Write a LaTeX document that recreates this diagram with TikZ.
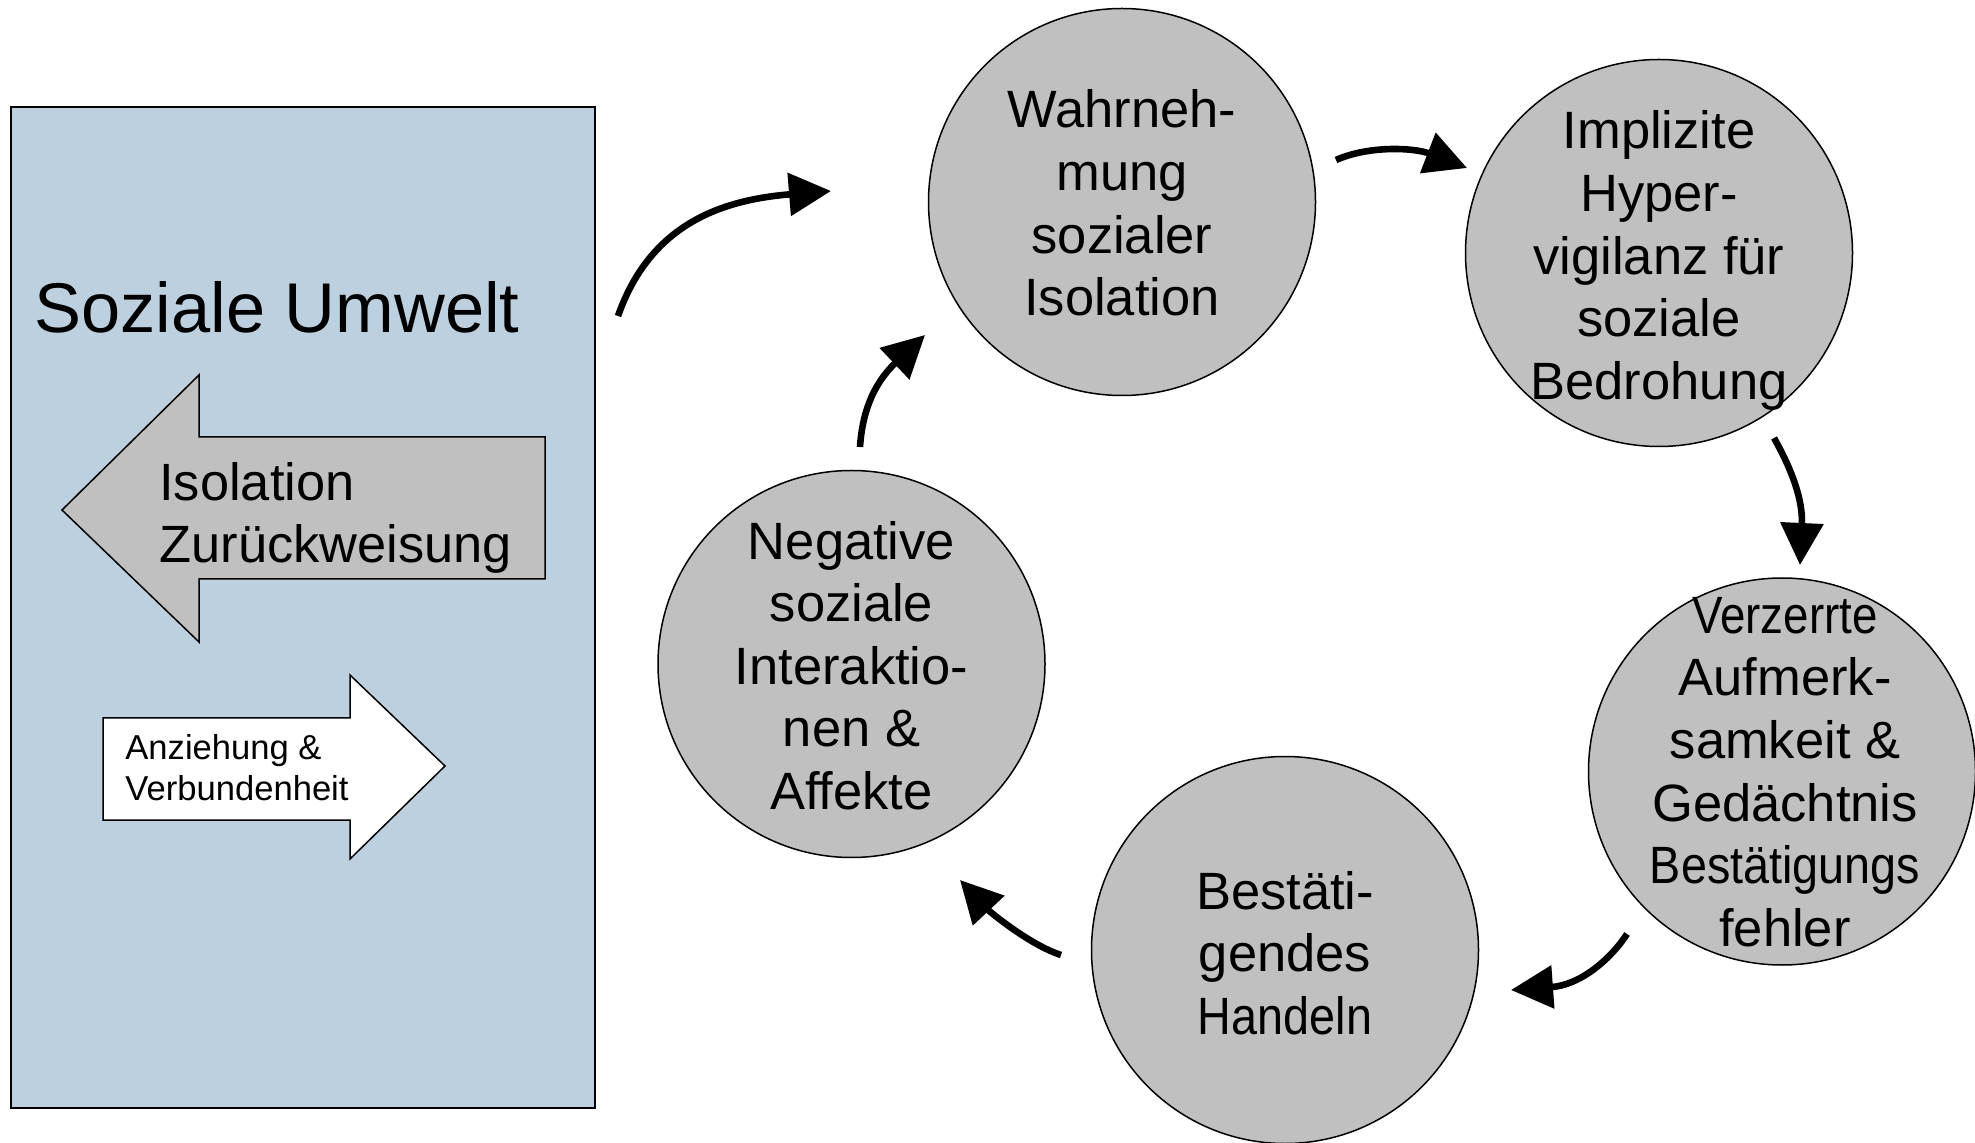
\documentclass[tikz,border=0pt]{standalone}
\usepackage{fontspec}
\setmainfont{Liberation Sans}
\usetikzlibrary{arrows.meta}
\definecolor{envblue}{RGB}{189,208,223}
\definecolor{bubblegray}{RGB}{192,192,192}
\begin{document}
\begin{tikzpicture}[x=0.5pt,y=-0.5pt,
  bubble/.style={circle, draw=black, line width=0.75pt, fill=bubblegray, minimum size=193.5pt, inner sep=0pt},
  bubbletext/.style={align=center, inner sep=0pt, font=\fontsize{26.25}{31.3}\selectfont},
  conn/.style={line width=3.3pt, line cap=butt, -{Triangle[length=21pt,width=21pt]}},
  outline/.style={draw=black, line width=0.75pt, line join=miter}]
\useasboundingbox (0,0) rectangle (1975,1143);
\fill[white] (0,0) rectangle (1975,1143);

% Social environment box
\node[draw=black, line width=0.75pt, fill=envblue, minimum width=292pt, minimum height=500.5pt, inner sep=0pt] (env) at (303,607.5) {};
\node[anchor=base west, inner sep=0pt, font=\fontsize{35.2}{42}\selectfont] (envtitle) at (34,332.5) {Soziale Umwelt};

% grey left arrow
\draw[outline, fill=bubblegray] (62,510) -- (199,375) -- (199,437) -- (545,437) -- (545,579) -- (199,579) -- (199,642) -- cycle;
\node[anchor=west, align=left, inner sep=0pt, font=\fontsize{26.2}{31}\selectfont] (isotext) at (159,517.5) {Isolation\\Zurückweisung};

% white right arrow
\draw[outline, fill=white] (103,718) -- (350,718) -- (350,675) -- (445,766) -- (350,859) -- (350,820) -- (103,820) -- cycle;
\node[anchor=west, align=left, inner sep=0pt, font=\fontsize{17.3}{20.5}\selectfont] (anztext) at (125,768) {Anziehung \&\\Verbundenheit};

% bubbles
\node[bubble] (wahr) at (1122,202) {};
\node[bubble] (impl) at (1659,253) {};
\node[bubble] (verz) at (1782,771.5) {};
\node[bubble] (best) at (1285,950) {};
\node[bubble] (nega) at (851.5,664) {};

\node[bubbletext] (wahrT) at (1122,203) {Wahrneh-\\mung\\sozialer\\Isolation};
\node[bubbletext] (implT) at (1659,260.5) {Implizite\\Hyper-\\vigilanz für\\soziale\\Bedrohung};
\node[bubbletext] (verzT) at (1785,772) {\scalebox{0.87}[1]{Verzerrte}\\Aufmerk-\\samkeit \&\\Gedächtnis\\\scalebox{0.89}[1]{Bestätigungs}\\fehler};
\node[bubbletext] (bestT) at (1285,953) {Bestäti-\\gendes\\\scalebox{0.89}[1]{Handeln}};
\node[bubbletext] (negaT) at (851.5,665.5) {Negative\\soziale\\Interaktio-\\nen \&\\Affekte};

% connector end points
\coordinate (aS) at (618,316);   \coordinate (aE) at (831,191);
\coordinate (bS) at (1336,160);  \coordinate (bE) at (1467,168);
\coordinate (cS) at (1774,438);  \coordinate (cE) at (1800,565);
\coordinate (dS) at (1627,934);  \coordinate (dE) at (1511,990);
\coordinate (eS) at (1061,955);  \coordinate (eE) at (960,880);
\coordinate (fS) at (860,447);   \coordinate (fE) at (925,335);

\draw[conn] (aS) .. controls (650,225) and (720,200) .. (aE);
\draw[conn] (bS) .. controls (1370,145) and (1415,148) .. (bE);
\draw[conn] (cS) .. controls (1792,470) and (1803,500) .. (cE);
\draw[conn] (dS) .. controls (1610,960) and (1580,985) .. (dE);
\draw[conn] (eS) .. controls (1030,945) and (990,912) .. (eE);
\draw[conn] (fS) .. controls (862,415) and (872,385) .. (fE);
\end{tikzpicture}
\end{document}
